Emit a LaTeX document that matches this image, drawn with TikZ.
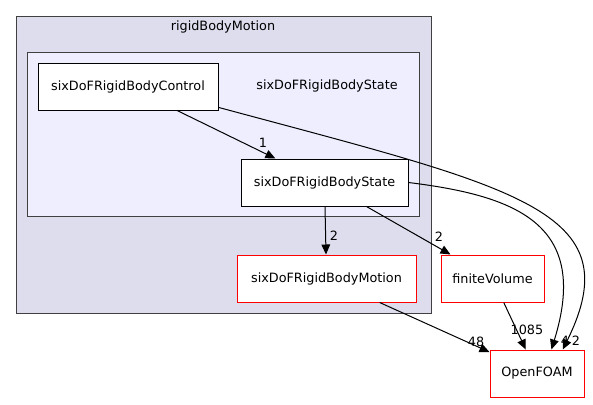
\documentclass[tikz,border=0pt]{standalone}
\usepackage{fontspec}
\setmainfont{DejaVu Sans}
\usetikzlibrary{shapes,arrows.meta}
\definecolor{outerfill}{HTML}{DDDDEE}
\definecolor{innerfill}{HTML}{EEEEFF}
\begin{document}
\begin{tikzpicture}[x=0.75pt, y=-0.75pt,
  font=\fontsize{9.6}{11}\selectfont,
  cluster/.style = {shape=rectangle, draw=black!75, line width=0.75pt,
    inner sep=0pt},
  dirbox/.style = {shape=rectangle, draw=black, fill=white,
    line width=0.75pt, minimum height=35.25pt, inner sep=0pt},
  extbox/.style = {dirbox, draw=red},
  dep/.style = {draw=black, line width=0.75pt,
    -{Triangle[length=7.5pt, width=6.5pt]}},
  count/.style = {inner sep=0pt}]
  \useasboundingbox (0,0) rectangle (593,404);
  \node[cluster, fill=outerfill, minimum width=311.25pt, minimum height=222.75pt]
    (rbm) at (223.5,164.5) {};
  \node (rbmlabel) at (223,27) {rigidBodyMotion};
  \node[cluster, fill=innerfill, minimum width=294pt, minimum height=123pt]
    (state6) at (223,134) {};
  \node (statelabel) at (327,86) {sixDoFRigidBodyState};
  \node[dirbox, minimum width=135pt] (ctrl) at (128,86.5) {sixDoFRigidBodyControl};
  \node[dirbox, minimum width=125.25pt] (state) at (324.5,182.5) {sixDoFRigidBodyState};
  \node[extbox, minimum width=134.25pt] (motion) at (326.5,278.5) {sixDoFRigidBodyMotion};
  \node[extbox, minimum width=77.25pt] (fv) at (492.5,278.5) {finiteVolume};
  \node[extbox, minimum width=70.5pt] (of) at (537,373.5) {OpenFOAM};

  \draw[dep] (ctrl) -- (state);
  \draw[dep] (state) -- (motion);
  \draw[dep] (state) -- (fv);
  \draw[dep] (motion) -- (of);
  \draw[dep] (fv) -- (of);
  \draw[dep] (state.east) .. controls (518,196) and (590,225) .. (of.59);
  \draw[dep] (ctrl.-13) .. controls (518,188) and (632,210) .. (of.43);

  \node[count] (n1) at (263,143) {1};
  \node[count] (n2) at (334,236) {2};
  \node[count] (n3) at (439,237) {2};
  \node[count] (n4) at (476,342) {48};
  \node[count] (n5) at (527,330) {1085};
  \node[count] (n6) at (565,341) {4};
  \node[count] (n7) at (576,341) {2};
\end{tikzpicture}
\end{document}
